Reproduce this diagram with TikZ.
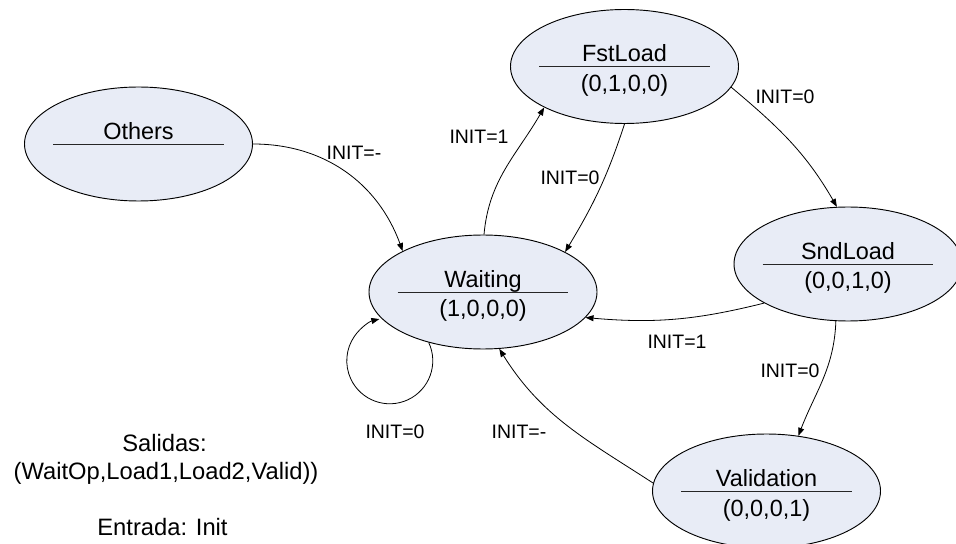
\documentclass[tikz,border=0pt]{standalone}
\usepackage{fontspec}
\setmainfont{Liberation Sans}
\usetikzlibrary{arrows.meta,shapes.geometric}
\definecolor{stfill}{RGB}{232,236,246}
\tikzset{
  stnode/.style={ellipse, draw=black, line width=0.7pt, fill=stfill,
    minimum width=171pt, minimum height=85.5pt, inner sep=0pt},
  sttext/.style={font=\fontsize{17.6pt}{21pt}\selectfont, inner sep=0pt, anchor=base},
  sepline/.style={draw=black!85, line width=0.7pt},
  lbl/.style={font=\fontsize{14.6pt}{17pt}\selectfont, inner sep=0pt, anchor=base},
  note/.style={font=\fontsize{17.8pt}{21pt}\selectfont, inner sep=0pt, anchor=base},
  edge/.style={draw=black, line width=0.6pt, -{Triangle[length=6pt,width=4.5pt]}}
}
\newcommand\mkstate[5]{%
  \node[stnode] (#1) at (#2,#3) {};
  \draw[sepline] ([xshift=-64.1pt]#1.center) -- ([xshift=64.1pt]#1.center);
  \node[sttext] (#1-top) at ([yshift=3.5pt]#1.center) {#4};
  \node[sttext] (#1-bot) at ([yshift=-18.75pt]#1.center) {#5};
}
\begin{document}
\begin{tikzpicture}[x=0.75pt,y=0.75pt]
\useasboundingbox (0,0) rectangle (956,543);
\node[stnode] (Others) at (138.5,399) {};
\draw[sepline] ([xshift=-64.1pt]Others.center) -- ([xshift=64.1pt]Others.center);
\node[sttext] (Others-top) at ([yshift=3.5pt]Others.center) {Others};
\mkstate{FstLoad}{624.5}{476.5}{FstLoad}{(0,1,0,0)}
\mkstate{Waiting}{483}{251}{Waiting}{(1,0,0,0)}
\mkstate{SndLoad}{848}{279}{SndLoad}{(0,0,1,0)}
\mkstate{Validation}{766.5}{52}{Validation}{(0,0,0,1)}

\draw[edge] (Others.east) to[out=0,in=110] (Waiting.153.7);
\draw[edge] (Waiting.89) to[out=85,in=240] (FstLoad.207.4);
\draw[edge] (FstLoad.-90) to[out=-108,in=59] (Waiting.26.3);
\draw[edge] (FstLoad.-11.6) to[out=-40,in=120] (SndLoad.101);
\draw[edge] (SndLoad.-155) to[out=194,in=-5] (Waiting.-14);
\draw[edge] (SndLoad.-102) to[out=-92,in=69] (Validation.60.3);
\draw[edge] (Validation.176.5) to[out=147,in=-58] (Waiting.-74);
\draw[edge] (Waiting.-137) arc[start angle=25,end angle=-256,radius=32.25pt];

\node[lbl] (l1) at (354,383) {INIT=-};
\node[lbl] (l2) at (479,399) {INIT=1};
\node[lbl] (l3) at (570,358) {INIT=0};
\node[lbl] (l4) at (785,439) {INIT=0};
\node[lbl] (l5) at (677,195) {INIT=1};
\node[lbl] (l6) at (790,166) {INIT=0};
\node[lbl] (l7) at (519,105) {INIT=-};
\node[lbl] (l8) at (395,105) {INIT=0};

\node[note] (sal) at (164.5,92) {Salidas:};
\node[note] (outs) at (166,64) {(WaitOp,Load1,Load2,Valid))};
\node[note] (ent) at (162.5,8) {Entrada: Init};
\end{tikzpicture}
\end{document}
